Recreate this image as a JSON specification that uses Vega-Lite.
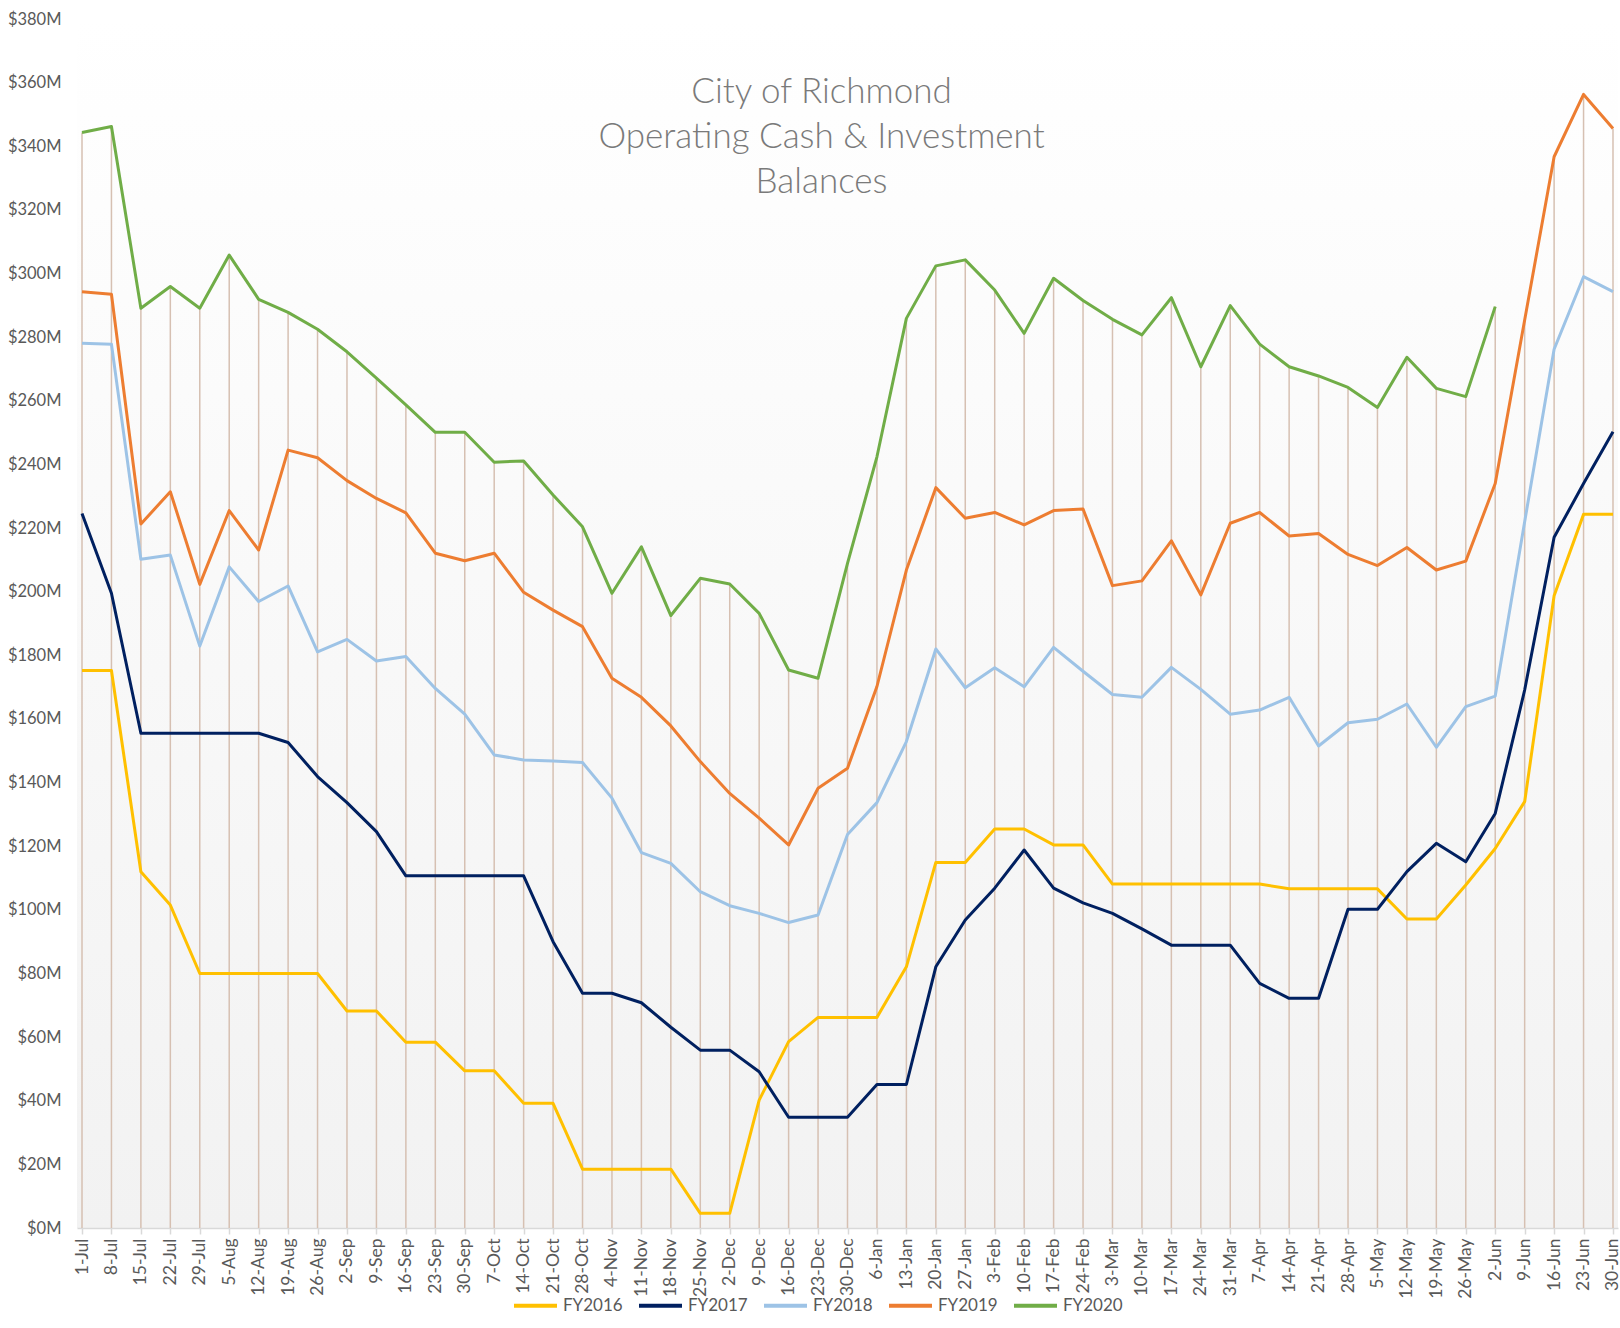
{
  "$schema": "https://vega.github.io/schema/vega-lite/v6.json",
  "autosize": {"type": "none"},
  "width": 1541,
  "height": 1209,
  "padding": {"left": 77, "top": 19, "right": 2, "bottom": 100},
  "background": "#ffffff",
  "config": {
    "view": {
      "stroke": null,
      "fill": {"gradient": "linear", "x1": 0, "y1": 0, "x2": 0, "y2": 1,
        "stops": [{"offset": 0, "color": "#ffffff"}, {"offset": 1, "color": "#f2f2f2"}]}
    },
    "font": "Lato"
  },
  "title": {
    "text": ["City of Richmond", "Operating  Cash & Investment", "Balances"],
    "anchor": "middle",
    "frame": "group",
    "dx": -26,
    "offset": -189,
    "font": "Lato",
    "fontSize": 35,
    "fontWeight": 300,
    "color": "#7a7a7a",
    "lineHeight": 45
  },
  "data": {
    "values": [
      {"d": "1-Jul", "FY2016": 175.2, "FY2017": 224.6, "FY2018": 278.1, "FY2019": 294.3, "FY2020": 344.3},
      {"d": "8-Jul", "FY2016": 175.2, "FY2017": 199.5, "FY2018": 277.8, "FY2019": 293.5, "FY2020": 346.2},
      {"d": "15-Jul", "FY2016": 112.0, "FY2017": 155.5, "FY2018": 210.2, "FY2019": 221.3, "FY2020": 289.1},
      {"d": "22-Jul", "FY2016": 101.5, "FY2017": 155.5, "FY2018": 211.5, "FY2019": 231.4, "FY2020": 295.9},
      {"d": "29-Jul", "FY2016": 80.0, "FY2017": 155.5, "FY2018": 182.9, "FY2019": 202.3, "FY2020": 289.1},
      {"d": "5-Aug", "FY2016": 80.0, "FY2017": 155.5, "FY2018": 207.8, "FY2019": 225.5, "FY2020": 305.8},
      {"d": "12-Aug", "FY2016": 80.0, "FY2017": 155.5, "FY2018": 196.9, "FY2019": 213.1, "FY2020": 291.9},
      {"d": "19-Aug", "FY2016": 80.0, "FY2017": 152.6, "FY2018": 201.8, "FY2019": 244.5, "FY2020": 287.8},
      {"d": "26-Aug", "FY2016": 80.0, "FY2017": 141.9, "FY2018": 181.1, "FY2019": 242.1, "FY2020": 282.5},
      {"d": "2-Sep", "FY2016": 68.2, "FY2017": 133.7, "FY2018": 185.0, "FY2019": 234.9, "FY2020": 275.4},
      {"d": "9-Sep", "FY2016": 68.2, "FY2017": 124.6, "FY2018": 178.2, "FY2019": 229.3, "FY2020": 267.1},
      {"d": "16-Sep", "FY2016": 58.4, "FY2017": 110.7, "FY2018": 179.6, "FY2019": 224.8, "FY2020": 258.7},
      {"d": "23-Sep", "FY2016": 58.4, "FY2017": 110.7, "FY2018": 169.6, "FY2019": 212.1, "FY2020": 250.1},
      {"d": "30-Sep", "FY2016": 49.4, "FY2017": 110.7, "FY2018": 161.5, "FY2019": 209.7, "FY2020": 250.1},
      {"d": "7-Oct", "FY2016": 49.4, "FY2017": 110.7, "FY2018": 148.7, "FY2019": 212.1, "FY2020": 240.7},
      {"d": "14-Oct", "FY2016": 39.2, "FY2017": 110.7, "FY2018": 147.1, "FY2019": 199.8, "FY2020": 241.1},
      {"d": "21-Oct", "FY2016": 39.2, "FY2017": 90.0, "FY2018": 146.8, "FY2019": 194.2, "FY2020": 230.4},
      {"d": "28-Oct", "FY2016": 18.5, "FY2017": 73.8, "FY2018": 146.3, "FY2019": 189.0, "FY2020": 220.4},
      {"d": "4-Nov", "FY2016": 18.5, "FY2017": 73.8, "FY2018": 135.1, "FY2019": 172.8, "FY2020": 199.5},
      {"d": "11-Nov", "FY2016": 18.5, "FY2017": 70.8, "FY2018": 118.0, "FY2019": 166.8, "FY2020": 214.1},
      {"d": "18-Nov", "FY2016": 18.5, "FY2017": 63.1, "FY2018": 114.6, "FY2019": 157.8, "FY2020": 192.5},
      {"d": "25-Nov", "FY2016": 4.6, "FY2017": 55.9, "FY2018": 105.7, "FY2019": 146.6, "FY2020": 204.2},
      {"d": "2-Dec", "FY2016": 4.6, "FY2017": 55.9, "FY2018": 101.3, "FY2019": 136.6, "FY2020": 202.4},
      {"d": "9-Dec", "FY2016": 40.2, "FY2017": 49.1, "FY2018": 98.9, "FY2019": 128.8, "FY2020": 193.2},
      {"d": "16-Dec", "FY2016": 58.6, "FY2017": 34.8, "FY2018": 96.0, "FY2019": 120.4, "FY2020": 175.4},
      {"d": "23-Dec", "FY2016": 66.2, "FY2017": 34.8, "FY2018": 98.4, "FY2019": 138.2, "FY2020": 172.8},
      {"d": "30-Dec", "FY2016": 66.2, "FY2017": 34.8, "FY2018": 123.7, "FY2019": 144.5, "FY2020": 208.9},
      {"d": "6-Jan", "FY2016": 66.2, "FY2017": 45.1, "FY2018": 133.7, "FY2019": 170.2, "FY2020": 242.4},
      {"d": "13-Jan", "FY2016": 82.1, "FY2017": 45.1, "FY2018": 152.9, "FY2019": 206.8, "FY2020": 285.9},
      {"d": "20-Jan", "FY2016": 114.9, "FY2017": 82.1, "FY2018": 182.0, "FY2019": 232.7, "FY2020": 302.4},
      {"d": "27-Jan", "FY2016": 114.9, "FY2017": 96.8, "FY2018": 169.8, "FY2019": 223.1, "FY2020": 304.3},
      {"d": "3-Feb", "FY2016": 125.4, "FY2017": 106.8, "FY2018": 176.1, "FY2019": 224.9, "FY2020": 294.8},
      {"d": "10-Feb", "FY2016": 125.4, "FY2017": 118.8, "FY2018": 170.1, "FY2019": 221.0, "FY2020": 281.2},
      {"d": "17-Feb", "FY2016": 120.4, "FY2017": 106.8, "FY2018": 182.5, "FY2019": 225.5, "FY2020": 298.5},
      {"d": "24-Feb", "FY2016": 120.4, "FY2017": 102.2, "FY2018": 175.0, "FY2019": 226.0, "FY2020": 291.5},
      {"d": "3-Mar", "FY2016": 108.1, "FY2017": 98.9, "FY2018": 167.7, "FY2019": 201.9, "FY2020": 285.6},
      {"d": "10-Mar", "FY2016": 108.1, "FY2017": 94.0, "FY2018": 166.8, "FY2019": 203.4, "FY2020": 280.7},
      {"d": "17-Mar", "FY2016": 108.1, "FY2017": 88.9, "FY2018": 176.2, "FY2019": 216.0, "FY2020": 292.4},
      {"d": "24-Mar", "FY2016": 108.1, "FY2017": 88.9, "FY2018": 169.3, "FY2019": 199.0, "FY2020": 270.7},
      {"d": "31-Mar", "FY2016": 108.1, "FY2017": 88.9, "FY2018": 161.5, "FY2019": 221.5, "FY2020": 289.9},
      {"d": "7-Apr", "FY2016": 108.1, "FY2017": 76.9, "FY2018": 162.8, "FY2019": 224.9, "FY2020": 277.8},
      {"d": "14-Apr", "FY2016": 106.6, "FY2017": 72.2, "FY2018": 166.8, "FY2019": 217.5, "FY2020": 270.7},
      {"d": "21-Apr", "FY2016": 106.6, "FY2017": 72.2, "FY2018": 151.5, "FY2019": 218.3, "FY2020": 267.8},
      {"d": "28-Apr", "FY2016": 106.6, "FY2017": 100.2, "FY2018": 158.8, "FY2019": 211.7, "FY2020": 264.2},
      {"d": "5-May", "FY2016": 106.6, "FY2017": 100.2, "FY2018": 159.9, "FY2019": 208.2, "FY2020": 257.9},
      {"d": "12-May", "FY2016": 97.1, "FY2017": 112.0, "FY2018": 164.7, "FY2019": 213.9, "FY2020": 273.7},
      {"d": "19-May", "FY2016": 97.1, "FY2017": 120.9, "FY2018": 151.1, "FY2019": 206.8, "FY2020": 263.9},
      {"d": "26-May", "FY2016": 107.8, "FY2017": 115.1, "FY2018": 163.9, "FY2019": 209.6, "FY2020": 261.3},
      {"d": "2-Jun", "FY2016": 119.3, "FY2017": 130.3, "FY2018": 167.2, "FY2019": 234.0, "FY2020": 289.6},
      {"d": "9-Jun", "FY2016": 134.0, "FY2017": 169.1, "FY2018": 222.0, "FY2019": 285.4},
      {"d": "16-Jun", "FY2016": 198.7, "FY2017": 217.1, "FY2018": 276.2, "FY2019": 336.7},
      {"d": "23-Jun", "FY2016": 224.3, "FY2017": 234.0, "FY2018": 299.0, "FY2019": 356.3},
      {"d": "30-Jun", "FY2016": 224.3, "FY2017": 250.3, "FY2018": 294.3, "FY2019": 345.6}
    ]
  },
  "transform": [
    {"fold": ["FY2016", "FY2017", "FY2018", "FY2019", "FY2020"], "as": ["series", "value"]},
    {"filter": "isValid(datum.value)"}
  ],
  "encoding": {
    "x": {
      "field": "d", "type": "nominal", "sort": null,
      "scale": {"type": "point", "padding": 0.17},
      "axis": {
        "title": null, "labelAngle": -90, "labelFont": "Lato", "labelFontSize": 17.5,
        "labelColor": "#595959", "labelPadding": 4, "domainColor": "#d9d9d9", "domainWidth": 1.5,
        "tickColor": "#d9d9d9", "tickSize": 6, "tickWidth": 1.5, "grid": false
      }
    }
  },
  "layer": [
    {
      "mark": {"type": "rule", "color": "#d6c0b2", "strokeWidth": 1.5},
      "encoding": {
        "y": {"aggregate": "max", "field": "value", "type": "quantitative",
          "scale": {"domain": [0, 380], "nice": false, "zero": true},
          "axis": {
            "title": null, "values": [0,20,40,60,80,100,120,140,160,180,200,220,240,260,280,300,320,340,360,380],
            "labelExpr": "'$' + datum.value + 'M'", "domain": false, "ticks": false, "grid": false,
            "labelPadding": 16, "labelFont": "Lato", "labelFontSize": 16.5, "labelColor": "#595959"
          }
        },
        "y2": {"datum": 0}
      }
    },
    {
      "mark": {"type": "line", "strokeWidth": 3, "strokeJoin": "round"},
      "encoding": {
        "y": {"field": "value", "type": "quantitative"},
        "color": {
          "field": "series", "type": "nominal",
          "scale": {"domain": ["FY2016", "FY2017", "FY2018", "FY2019", "FY2020"],
            "range": ["#ffc000", "#002060", "#9dc3e6", "#ed7d31", "#70ad47"]},
          "legend": {
            "title": null, "orient": "none", "direction": "horizontal",
            "legendX": 435, "legendY": 1263, "padding": 0,
            "symbolType": "stroke", "symbolSize": 1849, "symbolStrokeWidth": 4,
            "labelFont": "Lato", "labelFontSize": 17, "labelColor": "#595959",
            "labelOffset": 4, "columnPadding": 8
          }
        }
      }
    }
  ]
}
